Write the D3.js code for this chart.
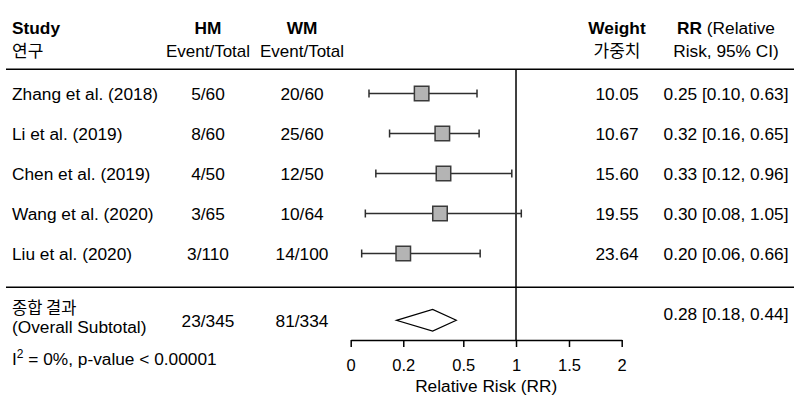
<!DOCTYPE html>
<html>
<head>
<meta charset="utf-8">
<script src="https://cdn.jsdelivr.net/npm/d3@7"></script>
<style>
  html, body { margin: 0; padding: 0; background: #fff; }
  svg text { font-family: "Liberation Sans", Arial, "Noto Sans CJK KR", sans-serif; fill: #000; }
  .ko { font-family: "Noto Sans CJK KR", sans-serif; }
</style>
</head>
<body>
<div id="chart"></div>
<script>
// ---- data ----
const studies = ['Zhang et al. (2018)', 'Li et al. (2019)', 'Chen et al. (2019)', 'Wang et al. (2020)', 'Liu et al. (2020)'];
const hmEvents = [5, 8, 4, 3, 3];
const hmTotals = [60, 60, 50, 65, 110];
const wmEvents = [20, 25, 12, 10, 14];
const wmTotals = [60, 60, 50, 64, 100];
const weights = [10.05, 10.67, 15.60, 19.55, 23.64];
const rrValues = [0.25, 0.32, 0.33, 0.30, 0.20];
const rrLower = [0.10, 0.16, 0.12, 0.08, 0.06];
const rrUpper = [0.63, 0.65, 0.96, 1.05, 0.66];

const totalHm = [23, 345];
const totalWm = [81, 334];
const totalRR = [0.28, 0.18, 0.44]; // estimate, lower, upper

const axisTicks = [0, 0.2, 0.5, 1, 1.5, 2];
// the axis in the reference is not linear: knots of the piecewise scale
const scaleKnots = [0, 0.1, 0.2, 0.3, 0.5, 1, 1.5, 2];

// ---- layout ----
const width = 800, height = 403;
const fs = 17.3;
const col = { study: 12, hm: 208, wm: 302, weight: 617, rr: 726 };
const headerLineY = 69.3, totalLineY = 287.3, axisY = 340;
const plotLeft = 350.7, plotRight = 621.7;

const svg = d3.select('#chart').append('svg')
    .attr('width', width)
    .attr('height', height);

const x = d3.scaleLinear()
    .domain(scaleKnots)
    .range([0, 0.0675, 0.194, 0.3295, 0.4155, 0.61, 0.8055, 1].map(f => plotLeft + f * (plotRight - plotLeft)));

const y = d3.scalePoint()
    .domain(studies)
    .range([93.5, 253.5]);

const f2 = d3.format('.2f');
const rrText = (v, lo, hi) => `${f2(v)} [${f2(lo)}, ${f2(hi)}]`;

// ---- header ----
const header = svg.append('g').attr('font-size', fs);
header.append('text').attr('x', col.study).attr('y', 33.5).attr('font-weight', 'bold').text('Study');
header.append('text').attr('class', 'ko').attr('x', col.study).attr('y', 57).attr('font-size', 17).text('연구');

[['HM', col.hm], ['WM', col.wm]].forEach(([label, cx]) => {
    header.append('text').attr('x', cx).attr('y', 33.5).attr('text-anchor', 'middle').attr('font-weight', 'bold').text(label);
    header.append('text').attr('x', cx).attr('y', 57).attr('text-anchor', 'middle').attr('font-size', 17).text('Event/Total');
});

header.append('text').attr('x', col.weight).attr('y', 33.5).attr('text-anchor', 'middle').attr('font-weight', 'bold').text('Weight');
header.append('text').attr('class', 'ko').attr('x', col.weight).attr('y', 57).attr('text-anchor', 'middle').attr('font-size', 17).text('가중치');

const rrHead = header.append('text').attr('x', col.rr).attr('y', 33.5).attr('text-anchor', 'middle');
rrHead.append('tspan').attr('font-weight', 'bold').text('RR');
rrHead.append('tspan').text(' (Relative');
header.append('text').attr('x', col.rr).attr('y', 57).attr('text-anchor', 'middle').text('Risk, 95% CI)');

// separator lines
[headerLineY, totalLineY].forEach(ly => {
    svg.append('line')
        .attr('x1', 6).attr('x2', 794)
        .attr('y1', ly).attr('y2', ly)
        .attr('stroke', '#000').attr('stroke-width', 1.5);
});

// reference line at RR = 1
svg.append('line')
    .attr('x1', x(1)).attr('x2', x(1))
    .attr('y1', headerLineY).attr('y2', axisY)
    .attr('stroke', '#000').attr('stroke-width', 1.5);

// ---- study rows ----
const rows = svg.append('g').attr('font-size', fs);
studies.forEach((s, i) => {
    const cy = y(s);
    const by = cy + 6.3;
    rows.append('text').attr('x', col.study).attr('y', by).text(s);
    rows.append('text').attr('x', col.hm).attr('y', by).attr('text-anchor', 'middle').text(`${hmEvents[i]}/${hmTotals[i]}`);
    rows.append('text').attr('x', col.wm).attr('y', by).attr('text-anchor', 'middle').text(`${wmEvents[i]}/${wmTotals[i]}`);
    rows.append('text').attr('x', col.weight).attr('y', by).attr('text-anchor', 'middle').text(f2(weights[i]));
    rows.append('text').attr('x', col.rr).attr('y', by).attr('text-anchor', 'middle').text(rrText(rrValues[i], rrLower[i], rrUpper[i]));

    // CI whisker
    const ci = svg.append('g').attr('stroke', '#2e2e2e').attr('stroke-width', 1.5);
    ci.append('line').attr('x1', x(rrLower[i])).attr('x2', x(rrUpper[i])).attr('y1', cy).attr('y2', cy);
    [rrLower[i], rrUpper[i]].forEach(v => {
        ci.append('line').attr('x1', x(v)).attr('x2', x(v)).attr('y1', cy - 4).attr('y2', cy + 4);
    });

    const box = 14.5;
    svg.append('rect')
        .attr('x', x(rrValues[i]) - box / 2)
        .attr('y', cy - box / 2)
        .attr('width', box).attr('height', box)
        .attr('fill', '#b4b4b4')
        .attr('stroke', '#3a3a3a')
        .attr('stroke-width', 1.5);
});

// ---- overall subtotal ----
const tot = svg.append('g').attr('font-size', fs);
tot.append('text').attr('class', 'ko').attr('x', col.study).attr('y', 313.5).attr('font-size', 16.5).text('종합 결과');
tot.append('text').attr('x', col.study).attr('y', 333).text('(Overall Subtotal)');
tot.append('text').attr('x', col.hm).attr('y', 326.5).attr('text-anchor', 'middle').text(`${totalHm[0]}/${totalHm[1]}`);
tot.append('text').attr('x', col.wm).attr('y', 326.5).attr('text-anchor', 'middle').text(`${totalWm[0]}/${totalWm[1]}`);
tot.append('text').attr('x', col.rr).attr('y', 320).attr('text-anchor', 'middle').text(rrText(totalRR[0], totalRR[1], totalRR[2]));

const dy = 320.3, dh = 10.8;
svg.append('path')
    .attr('d', `M${x(totalRR[1])},${dy} L${x(totalRR[0])},${dy - dh} L${x(totalRR[2])},${dy} L${x(totalRR[0])},${dy + dh} Z`)
    .attr('fill', '#fff')
    .attr('stroke', '#000')
    .attr('stroke-width', 1.2);

const het = tot.append('text').attr('x', col.study).attr('y', 365);
het.append('tspan').text('I');
het.append('tspan').attr('font-size', 12).attr('dy', -7).text('2');
het.append('tspan').attr('dy', 7).text(' = 0%, p-value < 0.00001');

// ---- axis ----
const axis = d3.axisBottom(x)
    .tickValues(axisTicks)
    .tickSize(7)
    .tickSizeOuter(0)
    .tickPadding(12)
    .tickFormat(d => String(d));

const ax = svg.append('g')
    .attr('transform', `translate(0,${axisY})`)
    .call(axis);
ax.select('.domain').attr('stroke', '#000').attr('stroke-width', 1.5);
ax.selectAll('.tick line').attr('stroke', '#000').attr('stroke-width', 1.5);
ax.selectAll('.tick text')
    .attr('font-size', 16.5)
    .attr('font-family', '"Liberation Sans", Arial, sans-serif')
    .attr('fill', '#000');

svg.append('text')
    .attr('x', (plotLeft + plotRight) / 2)
    .attr('y', 392.3)
    .attr('text-anchor', 'middle')
    .attr('font-size', fs)
    .text('Relative Risk (RR)');
</script>
</body>
</html>
